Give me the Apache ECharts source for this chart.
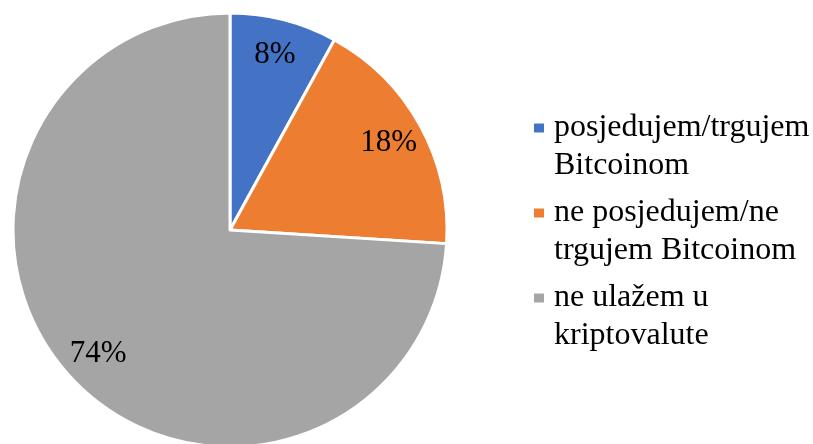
<!DOCTYPE html>
<html>
<head>
<meta charset="utf-8">
<script src="https://cdn.jsdelivr.net/npm/echarts@6/dist/echarts.min.js"></script>
<style>
  html, body { margin: 0; padding: 0; background: #fff; }
  #chart { width: 813px; height: 444px; }
</style>
</head>
<body>
<div id="chart"></div>
<script>
// kategorije i udjeli (%)
const categories = [
  "posjedujem/trgujem\nBitcoinom",
  "ne posjedujem/ne\ntrgujem Bitcoinom",
  "ne ulažem u\nkriptovalute"
];
const values = [8, 18, 74];
const colors = ["#4472C4", "#ED7D31", "#A5A5A5"];

const serif = "'Liberation Serif', 'Times New Roman', serif";
const pieData = categories.map((name, i) => ({
  name: name,
  value: values[i],
  itemStyle: { color: colors[i] }
}));

const chart = echarts.init(document.getElementById("chart"));

chart.setOption({
  animation: false,
  legend: {
    orient: "vertical",
    left: 532,
    top: 71,
    padding: 0,
    itemWidth: 12,
    itemHeight: 11,
    itemGap: -29,
    icon: "rect",
    selectedMode: false,
    data: categories,
    // prazan prvi red da kvadratić stoji uz prvi red teksta
    formatter: (name) => "\n" + name,
    textStyle: {
      fontFamily: serif,
      fontSize: 32,
      lineHeight: 38,
      color: "#000",
      padding: [0, 0, 0, 4]
    }
  },
  series: [
    {
      type: "pie",
      center: [230, 230],
      radius: [0, 217],
      startAngle: 90,
      clockwise: true,
      silent: true,
      itemStyle: { borderColor: "#fff", borderWidth: 3 },
      label: { show: false },
      labelLine: { show: false },
      data: pieData
    },
    {
      // prozirni prsten samo za oznake postotaka
      type: "pie",
      center: [230, 230],
      radius: [139, 217],
      startAngle: 90,
      clockwise: true,
      silent: true,
      legendHoverLink: false,
      itemStyle: { color: "transparent", borderWidth: 0 },
      label: {
        show: true,
        position: "inside",
        formatter: "{c}%",
        fontFamily: serif,
        fontSize: 31,
        color: "#000"
      },
      labelLine: { show: false },
      data: categories.map((name, i) => ({ name: name, value: values[i] }))
    }
  ]
});
</script>
</body>
</html>
